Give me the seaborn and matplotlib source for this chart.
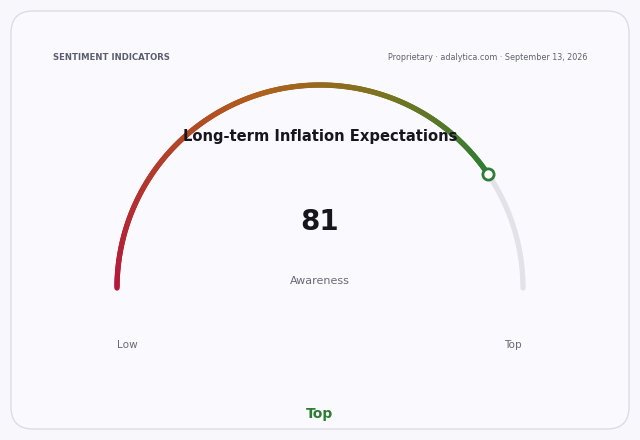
import numpy as np
import matplotlib
matplotlib.use("Agg")
import matplotlib.pyplot as plt
import seaborn as sns
from matplotlib.collections import LineCollection
from matplotlib.colors import LinearSegmentedColormap
from matplotlib.patches import FancyBboxPatch

# data
section = "SENTIMENT INDICATORS"
source = "Proprietary · adalytica.com · September 13, 2026"
title = "Long-term Inflation Expectations"
metric_name = "Awareness"
value = 81
gauge_min, gauge_max = 0, 100
end_labels = ["Low", "Top"]
status = "Top"

sns.set_theme(style="white")
plt.rcParams['font.family'] = ['DejaVu Sans']

bg = "#f8f8fc"
fig = plt.figure(figsize=(6.4, 4.4), dpi=100, facecolor=bg)
ax = fig.add_axes([0, 0, 1, 1])
ax.set_xlim(0, 640)
ax.set_ylim(440, 0)
ax.axis("off")
ax.set_facecolor(bg)

# card
card = FancyBboxPatch((11, 11), 618, 418, boxstyle="round,pad=0,rounding_size=22",
                      facecolor="#fafafe", edgecolor="#dcdce6", linewidth=1.0)
ax.add_patch(card)

cx, cy, r = 320, 288, 203

def to_xy(v):
    ang = np.pi * (1 - (v - gauge_min) / (gauge_max - gauge_min))
    return cx + r * np.cos(ang), cy - r * np.sin(ang)

# background track
t = np.linspace(gauge_min, gauge_max, 300)
tx, ty = to_xy(t)
sns.lineplot(x=tx, y=ty, sort=False, color="#e2e2e8", linewidth=3.8, ax=ax,
             solid_capstyle="round", estimator=None)

# filled gradient arc
cmap = LinearSegmentedColormap.from_list(
    "g", [(0, "#b5173b"), (0.5, "#b0601c"), (0.75, "#7a7420"), (1, "#2e7d32")])
f = np.linspace(gauge_min, value, 300)
fx, fy = to_xy(f)
pts = np.array([fx, fy]).T.reshape(-1, 1, 2)
segs = np.concatenate([pts[:-1], pts[1:]], axis=1)
lc = LineCollection(segs, colors=cmap(np.linspace(0, 1, len(segs))),
                    linewidth=3.8, capstyle="round")
ax.add_collection(lc)

mx, my = to_xy(value)
sns.scatterplot(x=[mx], y=[my], s=65, color="white", edgecolor="#2e7d32",
                linewidth=2.0, ax=ax, zorder=5)

# texts
ax.text(53, 57, section, fontsize=6.1, fontweight="bold", color="#5c5c70", va="center")
ax.text(587, 57, source, fontsize=5.8, color="#60606c", va="center", ha="right")
ax.text(320, 137, title, fontsize=10.6, fontweight="bold", color="#16161c", ha="center", va="center")
ax.text(320, 222, str(value), fontsize=20, fontweight="bold", color="#16161c", ha="center", va="center")
ax.text(320, 281, metric_name, fontsize=8.0, color="#6a6a78", ha="center", va="center")
ax.text(127, 345, end_labels[0], fontsize=7.6, color="#6a6a74", ha="center", va="center")
ax.text(513, 345, end_labels[1], fontsize=7.6, color="#6a6a74", ha="center", va="center")
ax.text(320, 414, status, fontsize=10, fontweight="bold", color="#2e7d32", ha="center", va="center")

fig.savefig("out.png", dpi=100, facecolor=bg)
